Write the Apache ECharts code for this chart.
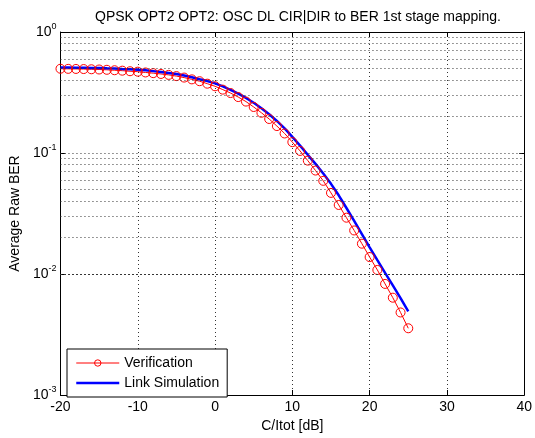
<!DOCTYPE html>
<html>
<head>
<meta charset="utf-8">
<script src="https://cdn.jsdelivr.net/npm/echarts@6/dist/echarts.min.js"></script>
<style>
  html, body { margin: 0; padding: 0; background: #fff; }
  #chart { width: 535px; height: 438px; }
</style>
</head>
<body>
<div id="chart"></div>
<script>
// C/Itot in dB, one point per dB
const snrDb = [-20, -19, -18, -17, -16, -15, -14, -13, -12, -11, -10, -9, -8, -7, -6, -5, -4, -3, -2, -1,
  0, 1, 2, 3, 4, 5, 6, 7, 8, 9, 10, 11, 12, 13, 14, 15, 16, 17, 18, 19, 20, 21, 22, 23, 24, 25];

const verificationBer = [0.497, 0.496, 0.495, 0.494, 0.492, 0.490, 0.487, 0.483, 0.479, 0.474, 0.470,
  0.463, 0.457, 0.450, 0.442, 0.432, 0.420, 0.406, 0.392, 0.374, 0.356, 0.334, 0.313, 0.290, 0.266,
  0.240, 0.215, 0.191, 0.167, 0.145, 0.123, 0.104, 0.0865, 0.0716, 0.0589, 0.0468, 0.0372, 0.0292,
  0.0229, 0.0178, 0.0138, 0.0108, 0.00828, 0.00637, 0.00481, 0.00356];

const linkSimBer = [0.508, 0.508, 0.507, 0.506, 0.505, 0.504, 0.501, 0.499, 0.495, 0.492, 0.488,
  0.482, 0.475, 0.468, 0.459, 0.449, 0.437, 0.423, 0.407, 0.393, 0.376, 0.355, 0.333, 0.309, 0.285,
  0.260, 0.234, 0.209, 0.184, 0.160, 0.136, 0.115, 0.0966, 0.0813, 0.0676, 0.0556, 0.0447, 0.0351,
  0.0275, 0.0214, 0.0166, 0.0130, 0.0102, 0.00804, 0.00631, 0.00490];

const xTicks = [-20, -10, 0, 10, 20, 30, 40];
const decades = [0.001, 0.01, 0.1];
const minorSteps = [2, 3, 4, 5, 6, 7, 8, 9];

const font = 'Liberation Sans, Arial, sans-serif';
const gridDots = { type: [1, 3], color: '#333', width: 1 };

const minorGrid = [];
decades.forEach((d) => {
  minorSteps.forEach((m) => minorGrid.push({ yAxis: +(d * m).toPrecision(3) }));
});
decades.slice(1).forEach((d) => minorGrid.push({ yAxis: d }));

const chart = echarts.init(document.getElementById('chart'));

const xBase = {
  type: 'value',
  min: xTicks[0],
  max: xTicks[xTicks.length - 1],
  interval: 10,
  axisLine: { show: true, onZero: false, lineStyle: { color: '#000', width: 1 } },
  axisTick: { show: true, inside: true, length: 5, lineStyle: { color: '#000' } }
};

const yBase = {
  type: 'log',
  logBase: 10,
  min: 0.001,
  max: 1,
  axisLine: { show: true, onZero: false, lineStyle: { color: '#000', width: 1 } },
  axisTick: { show: true, inside: true, length: 5, lineStyle: { color: '#000' } }
};

chart.setOption({
  animation: false,
  backgroundColor: '#fff',
  title: {
    text: 'QPSK OPT2 OPT2: OSC DL CIR|DIR to BER 1st stage mapping.',
    left: 293,
    top: 5,
    textAlign: 'center',
    textStyle: { fontFamily: font, fontSize: 14, fontWeight: 'normal', color: '#000' }
  },
  grid: { left: 59, right: 7, top: 32, bottom: 38 },
  legend: {
    data: [
      { name: 'Verification', lineStyle: { width: 1 }, itemStyle: { borderWidth: 1 } },
      { name: 'Link Simulation', lineStyle: { width: 2.5 }, itemStyle: { opacity: 0 } }
    ],
    orient: 'vertical',
    left: 67,
    top: 349,
    padding: [7, 8],
    itemGap: 6,
    itemWidth: 43,
    itemHeight: 8,
    backgroundColor: '#fff',
    borderColor: '#000',
    borderWidth: 1,
    borderRadius: 0,
    textStyle: { fontFamily: font, fontSize: 14, color: '#000' }
  },
  xAxis: [
    Object.assign({}, xBase, {
      position: 'bottom',
      name: 'C/Itot [dB]',
      nameLocation: 'middle',
      nameGap: 24,
      nameTextStyle: { fontFamily: font, fontSize: 14, color: '#000' },
      axisLabel: { color: '#000', fontFamily: font, fontSize: 14, margin: 5 },
      splitLine: { show: true, lineStyle: gridDots }
    }),
    Object.assign({}, xBase, {
      position: 'top',
      axisLabel: { show: false },
      splitLine: { show: false }
    })
  ],
  yAxis: [
    Object.assign({}, yBase, {
      position: 'left',
      name: 'Average Raw BER',
      nameLocation: 'middle',
      nameGap: 33,
      nameTextStyle: { fontFamily: font, fontSize: 14, color: '#000' },
      axisLabel: {
        color: '#000',
        margin: 4,
        formatter: (v) => '{b|10}{s|' + Math.round(Math.log10(v)) + '}',
        rich: {
          b: { fontFamily: font, fontSize: 14, color: '#000' },
          s: { fontFamily: font, fontSize: 9, color: '#000', padding: [0, 0, 10, 0] }
        }
      },
      splitLine: { show: false }
    }),
    Object.assign({}, yBase, {
      position: 'right',
      axisLabel: { show: false },
      splitLine: { show: false }
    })
  ],
  series: [
    {
      name: 'grid',
      type: 'line',
      data: [],
      silent: true,
      markLine: {
        silent: true,
        symbol: ['none', 'none'],
        label: { show: false },
        lineStyle: gridDots,
        emphasis: { disabled: true },
        data: minorGrid
      }
    },
    {
      name: 'Verification',
      type: 'line',
      data: snrDb.map((x, i) => [x, verificationBer[i]]),
      symbol: 'circle',
      symbolSize: 9,
      lineStyle: { color: '#ff0000', width: 1 },
      itemStyle: { color: 'rgba(255,255,255,0)', borderColor: '#ff0000', borderWidth: 1 }
    },
    {
      name: 'Link Simulation',
      type: 'line',
      data: snrDb.map((x, i) => [x, linkSimBer[i]]),
      showSymbol: false,
      symbol: 'none',
      lineStyle: { color: '#0000ff', width: 2.5 },
      itemStyle: { color: '#0000ff' }
    }
  ]
});
</script>
</body>
</html>
